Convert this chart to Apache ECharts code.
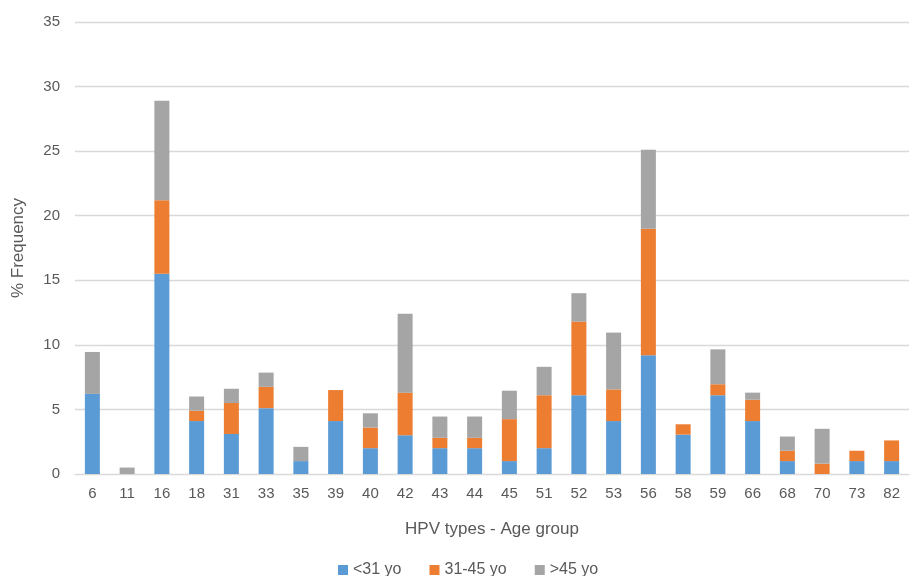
<!DOCTYPE html>
<html><head><meta charset="utf-8">
<script src="https://cdn.jsdelivr.net/npm/echarts@6/dist/echarts.min.js"></script>
<style>html,body{margin:0;padding:0;background:#fff}#c{width:911px;height:576px}</style>
</head><body><div id="c"></div>
<script>
const categories = ['6','11','16','18','31','33','35','39','40','42','43','44','45','51','52','53','56','58','59','66','68','70','73','82'];
const under31 = [6.2,0,15.5,4.1,3.1,5.1,1.0,4.1,2.0,3.0,2.0,2.0,1.0,2.0,6.1,4.1,9.2,3.05,6.1,4.1,1.0,0,1.0,1.0];
const age31to45 = [0,0,5.7,0.8,2.4,1.65,0,2.4,1.6,3.3,0.8,0.8,3.25,4.1,5.7,2.45,9.8,0.8,0.85,1.65,0.8,0.8,0.8,1.6];
const over45 = [3.25,0.5,7.7,1.1,1.1,1.1,1.1,0,1.1,6.1,1.65,1.65,2.2,2.2,2.2,4.4,6.1,0,2.7,0.55,1.1,2.7,0,0];
const seriesNames = ['<31 yo','31-45 yo','>45 yo'];
const colors = ['#5B9BD5','#ED7D31','#A5A5A5'];
const txt = '#595959';
const font = '"Liberation Sans", sans-serif';
const chart = echarts.init(document.getElementById('c'));
const mk = (name, data, i) => ({
  name, type:'bar', stack:'a', data, barWidth:15,
  itemStyle:{color:colors[i]}
});
chart.setOption({
  animation:false,
  grid:{left:75,right:2,top:22,bottom:102,containLabel:false},
  legend:{top:557,left:333,itemWidth:10,itemHeight:10,itemGap:28,icon:'rect',
    textStyle:{color:txt,fontSize:16,fontFamily:font}},
  xAxis:{type:'category',data:categories,
    name:'HPV types - Age group',nameLocation:'middle',nameGap:47,
    nameTextStyle:{color:txt,fontSize:17,fontFamily:font},
    axisLine:{lineStyle:{color:'#D9D9D9'}},axisTick:{show:false},
    axisLabel:{color:txt,fontSize:15,margin:12,fontFamily:font}},
  yAxis:{type:'value',min:0,max:35,interval:5,
    name:'% Frequency',nameLocation:'middle',nameGap:48,
    nameTextStyle:{color:txt,fontSize:17,fontFamily:font},
    axisLine:{show:false},axisTick:{show:false},
    axisLabel:{color:txt,fontSize:15,margin:15,fontFamily:font},
    splitLine:{lineStyle:{color:'#D9D9D9',width:1.3}}},
  series:[mk(seriesNames[0],under31,0),mk(seriesNames[1],age31to45,1),mk(seriesNames[2],over45,2)]
});
</script></body></html>
